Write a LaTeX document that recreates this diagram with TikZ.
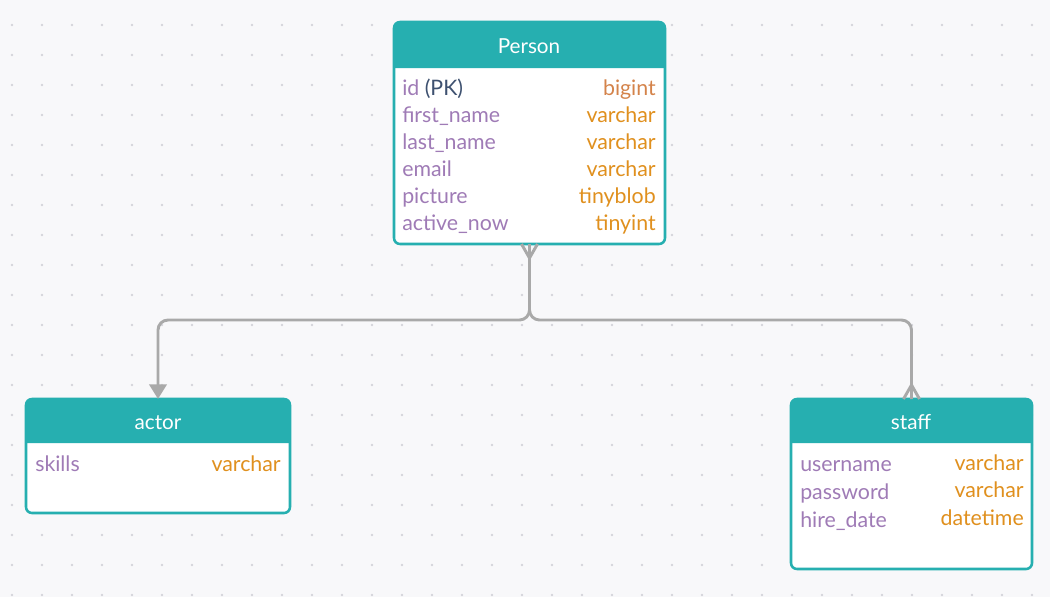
\documentclass[tikz,border=0pt]{standalone}
\usepackage{fontspec}
\setmainfont{Lato}
\usetikzlibrary{arrows.meta,calc}
\definecolor{bgc}{HTML}{F8F8FA}
\definecolor{dotc}{HTML}{D4D4DA}
\definecolor{hdr}{HTML}{26AFB0}
\definecolor{fldc}{HTML}{9F7BB6}
\definecolor{typc}{HTML}{E0901E}
\definecolor{bigc}{HTML}{D4834A}
\definecolor{pkc}{HTML}{3E5170}
\definecolor{connc}{HTML}{A9A9A9}
\begin{document}
\begin{tikzpicture}[x=0.75pt,y=-0.75pt,
  tbl/.style={draw=hdr,fill=white,line width=1.9pt,rounded corners=4.5pt,inner sep=0pt,outer sep=0pt,anchor=north west},
  ttl/.style={text=white,font=\fontsize{15.5}{18}\selectfont,inner sep=0pt,anchor=mid},
  fld/.style={text=fldc,font=\fontsize{16}{19}\selectfont,inner sep=0pt,anchor=mid west},
  typ/.style={text=typc,font=\fontsize{16}{19}\selectfont,inner sep=0pt,anchor=mid east},
  conn/.style={draw=connc,line width=2.2pt},
]
\fill[bgc] (0,0) rectangle (1050,597);
\useasboundingbox (0,0) rectangle (1050,597);
\foreach \i in {0,...,34}{\foreach \j in {0,...,19}{
  \fill[dotc] (12+30*\i,25+30*\j) circle (1.1pt);}}

% Person
\node[tbl,minimum width=203.25pt,minimum height=166.5pt] (person) at (394,22) {};
\fill[hdr] (394,68) [rounded corners=4.5pt] -- (394,22) -- (665,22) [sharp corners] -- (665,68) -- cycle;
\node[ttl] (personT) at (529,50) {Person};
\node[fld] (p1) at (402,92) {id \textcolor{pkc}{(PK)}};
\node[typ,text=bigc] (t1) at (656,92) {bigint};
\node[fld] (p2) at (402,119) {first\_name};
\node[typ] (t2) at (656,119) {varchar};
\node[fld] (p3) at (402,146) {last\_name};
\node[typ] (t3) at (656,146) {varchar};
\node[fld] (p4) at (402,173) {email};
\node[typ] (t4) at (656,173) {varchar};
\node[fld] (p5) at (402,200) {picture};
\node[typ] (t5) at (656,200) {tinyblob};
\node[fld] (p6) at (402,227) {active\_now};
\node[typ] (t6) at (656,227) {tinyint};

% actor
\node[tbl,minimum width=198pt,minimum height=85.5pt] (actor) at (26,399) {};
\fill[hdr] (26,443) [rounded corners=4.5pt] -- (26,399) -- (290,399) [sharp corners] -- (290,443) -- cycle;
\node[ttl] (actorT) at (158,426) {actor};
\node[fld] (a1) at (35,468) {skills};
\node[typ] (at1) at (281,468) {varchar};

% staff
\node[tbl,minimum width=180.75pt,minimum height=127.5pt] (staff) at (791,399) {};
\fill[hdr] (791,443) [rounded corners=4.5pt] -- (791,399) -- (1032,399) [sharp corners] -- (1032,443) -- cycle;
\node[ttl] (staffT) at (911,426) {staff};
\node[fld] (s1) at (800,468) {username};
\node[typ] (st1) at (1024,467) {varchar};
\node[fld] (s2) at (800,496) {password};
\node[typ] (st2) at (1024,494) {varchar};
\node[fld] (s3) at (800,524) {hire\_date};
\node[typ] (st3) at (1024,522) {datetime};

% connectors
\draw[conn,rounded corners=7.5pt,-{Triangle[width=13pt,length=11pt]}] (person.south) -- ++(0,76) -| (actor.north);
\draw[conn,rounded corners=7.5pt] (person.south) -- ++(0,76) -| (staff.north);
\draw[conn] ($(person.south)+(0,14)$) -- ($(person.south)+(-8,0)$);
\draw[conn] ($(person.south)+(0,14)$) -- ($(person.south)+(8,0)$);
\draw[conn] ($(staff.north)+(0,-14)$) -- ($(staff.north)+(-8,0)$);
\draw[conn] ($(staff.north)+(0,-14)$) -- ($(staff.north)+(8,0)$);
\end{tikzpicture}
\end{document}
